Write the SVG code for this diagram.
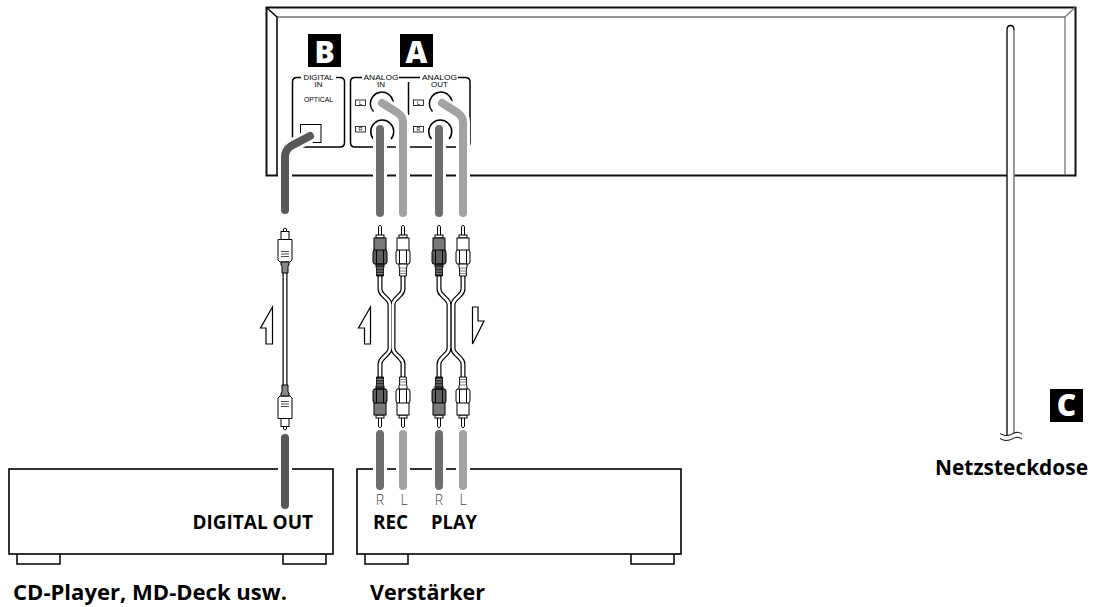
<svg xmlns="http://www.w3.org/2000/svg" width="1093" height="607" viewBox="0 0 1093 607">
<style>
.ln{fill:none;stroke:#000;stroke-width:1.5}
.box{fill:#fff;stroke:#000;stroke-width:1.6}
.gl{fill:none;stroke:#777;stroke-width:1.3}
.thin{fill:none;stroke:#000;stroke-width:1}
.t{font-family:"Open Sans","Noto Sans",sans-serif;font-weight:700;font-size:19px;fill:#000}
.big{font-size:21px}
.s{font-family:"Liberation Sans",Arial,sans-serif;font-size:8px;fill:#000;text-anchor:middle}
.lr{font-family:"Open Sans",sans-serif;font-weight:300;font-size:14px;fill:#444;text-anchor:middle}
.b{font-family:"Open Sans",sans-serif;font-weight:800;font-size:30px;fill:#fff;text-anchor:middle}
.halo{fill:none;stroke:#fff;stroke-width:14}
.cd{fill:none;stroke-width:8;stroke-linecap:round;stroke-linejoin:round}
.opt{stroke:#58585a}.r{stroke:#6e6e6e}.l{stroke:#a3a3a3}
.cao{fill:none;stroke:#000;stroke-width:5}
.cai{fill:none;stroke:#fff;stroke-width:2.600}
.ar{fill:#fff;stroke:#000;stroke-width:1.200}
.pd{fill:#7a7a7a;stroke:#000;stroke-width:1}
.pf{fill:#5f5f5f;stroke:#000;stroke-width:1}
.pk{fill:#333;stroke:#000;stroke-width:1}
.pw{fill:#fff;stroke:#000;stroke-width:1}
</style>
<defs>
<g id="rca-dark">
<path class="pw" d="M-1.500 236V226.500Q0 224 1.500 226.500V236Z"/>
<rect class="pw" x="-4" y="235" width="8" height="3"/>
<rect class="pd" x="-6" y="238" width="12" height="13"/>
<path class="pf" d="M-6 250H6L7 252V262L6 264H-6L-7 262V252Z"/>
<path class="thin" d="M-3.500 250V264M3.500 250V264"/>
<path class="pk" d="M-4 264H4V267L3.400 268V276H-3.400V268L-4 267Z"/>
<path d="M-3.400 268H3.400M-3.400 271H3.400M-3.400 273.500H3.400" stroke="#999" stroke-width="0.800"/>
</g>
<g id="rca-white">
<path class="pw" d="M-1.500 236V226.500Q0 224 1.500 226.500V236Z"/>
<rect class="pw" x="-4" y="235" width="8" height="3"/>
<rect class="pw" x="-6" y="238" width="12" height="13"/>
<path class="pw" d="M-6 250H6L7 252V262L6 264H-6L-7 262V252Z"/>
<path class="thin" d="M-3.500 250V264M3.500 250V264"/>
<path class="pw" d="M-4 264H4V267L3.400 268V276H-3.400V268L-4 267Z"/>
<path d="M-3.400 268H3.400M-3.400 271H3.400M-3.400 273.500H3.400" stroke="#666" stroke-width="0.800"/>
</g>
<g id="opt-plug">
<path class="pw" d="M-1.500 232V229Q0 227 1.500 229V232Z"/>
<rect class="pw" x="-4" y="231.500" width="8" height="8"/>
<path class="pw" d="M-7 239.500H7V260L5 262H-5L-7 260Z"/>
<path d="M-4 251.500H4M-4 254H4M-4 256.500H4" stroke="#000" stroke-width="0.700"/>
<path class="pk" style="fill:#888" d="M-4 262H4V265L3 266V273H-3V266L-4 265Z"/>
</g>
</defs>

<g id="device">
<rect x="266.500" y="7.500" width="809" height="168" fill="#fff" stroke="#111" stroke-width="2"/>
<path class="gl" d="M277 17H1065V175"/>
<path class="ln" d="M277 175V17L266.500 7.500"/>
<path class="gl" d="M1065 17L1075 7.500"/>
<path class="ln" d="M301 77.500H297Q292.500 77.500 292.500 82V142.500Q292.500 147 297 147H340Q344.500 147 344.500 142.500V82Q344.500 77.500 340 77.500H336"/>
<path class="ln" d="M362 77.500H355Q350.500 77.500 350.500 82V142.500Q350.500 147 355 147H465.500Q470 147 470 142.500V82Q470 77.500 465.500 77.500H458M399 77.500H420"/>
<path class="ln" d="M408.500 82V115"/>
<text class="s" x="318.500" y="79.500" textLength="30" lengthAdjust="spacingAndGlyphs">DIGITAL</text><text class="s" x="318.500" y="87">IN</text>
<text class="s" x="318.500" y="102" textLength="29" lengthAdjust="spacingAndGlyphs">OPTICAL</text>
<text class="s" x="381" y="79.500" textLength="35" lengthAdjust="spacingAndGlyphs">ANALOG</text><text class="s" x="381" y="87">IN</text>
<text class="s" x="439.500" y="79.500" textLength="35" lengthAdjust="spacingAndGlyphs">ANALOG</text><text class="s" x="439.500" y="87">OUT</text>
<rect class="thin" x="300.500" y="124.500" width="20.500" height="18" fill="#fff"/>
<g id="jacks">
<path class="ln" d="M373.500 111.500A11.500 11.500 0 1 1 392 109"/>
<path class="ln" d="M373.500 139A11.500 11.500 0 1 1 391 139"/>
<path class="ln" d="M432.500 111.500A11.500 11.500 0 1 1 451 109"/>
<path class="ln" d="M431.500 139A11.500 11.500 0 1 1 449 139"/>
<g fill="#fff" stroke="#000" stroke-width="0.800">
<rect x="355.500" y="100" width="10" height="5.500"/><rect x="355.500" y="126.500" width="10" height="5.500"/>
<rect x="413.500" y="100" width="10" height="5.500"/><rect x="413.500" y="126.500" width="10" height="5.500"/>
</g>
<g font-family="Liberation Sans,sans-serif" font-size="5.500" text-anchor="middle">
<text x="360.500" y="104.800">L</text><text x="360.500" y="131.300">R</text>
<text x="418.500" y="104.800">L</text><text x="418.500" y="131.300">R</text>
</g>
</g>
</g>

<g id="badge-b"><rect x="308" y="34" width="33" height="33" fill="#000"/><text class="b" x="324.500" y="62.500">B</text></g>
<g id="badge-a"><rect x="400" y="34" width="33" height="33" fill="#000"/><text class="b" x="416.500" y="62.500">A</text></g>
<g id="badge-c"><rect x="1050" y="389" width="33" height="33" fill="#000"/><text class="b" x="1066.500" y="416">C</text></g>

<g id="cd-player">
<rect class="box" x="9" y="469" width="324" height="85"/>
<path class="ln" d="M17 554V564H60V554M283 554V564H326V554"/>
<text class="t" x="192.500" y="529" textLength="120.500" lengthAdjust="spacingAndGlyphs">DIGITAL OUT</text>
<text class="t big" x="13" y="600" textLength="274" lengthAdjust="spacingAndGlyphs">CD-Player, MD-Deck usw.</text>
</g>

<g id="amplifier">
<rect class="box" x="357" y="469" width="324" height="85"/>
<path class="ln" d="M365 554V564H408V554M631 554V564H674V554"/>
<text class="lr" x="380" y="505">R</text><text class="lr" x="404" y="505">L</text>
<text class="lr" x="439" y="505">R</text><text class="lr" x="463" y="505">L</text>
<text class="t" x="373" y="529" textLength="35" lengthAdjust="spacingAndGlyphs">REC</text>
<text class="t" x="431" y="529" textLength="46" lengthAdjust="spacingAndGlyphs">PLAY</text>
<text class="t big" x="370" y="600" textLength="115" lengthAdjust="spacingAndGlyphs">Verstärker</text>
</g>

<g id="power-outlet">
<text class="t big" x="935" y="475" textLength="153" lengthAdjust="spacingAndGlyphs">Netzsteckdose</text>
</g>

<g id="connectors">
<g id="cable-halos">
<path class="halo" d="M285 190V157Q285 150 291 146L310 136"/>
<path class="halo" d="M380 190V130"/>
<path class="halo" d="M403 190V122Q403 117 398 113L382 103"/>
<path class="halo" d="M439 190V130"/>
<path class="halo" d="M463 190V122Q463 117 458 113L442 103"/>
<path class="halo" d="M285 455V490M380 455V490M403 455V490M439 455V490M463 455V490"/>
</g>
<path class="cd opt" d="M285 210V157Q285 150 291 146L310 136"/>
<path class="cd r" d="M380 213V129"/>
<path class="cd l" d="M403 213V122Q403 117 398 113L382 103"/>
<path class="cd r" d="M439 213V129"/>
<path class="cd l" d="M463 213V122Q463 117 458 113L442 103"/>
<path class="cd opt" d="M285 438V505"/>
<path class="cd r" d="M380 434V486M439 434V486"/>
<path class="cd l" d="M403 434V486M463 434V486"/>

<g id="optical-cable">
<path class="cao" d="M285 272V386"/><path class="cai" d="M285 272V386"/>
<use href="#opt-plug" x="285"/>
<use href="#opt-plug" transform="translate(285 658) scale(1 -1)"/>
</g>
<g id="rec-cable">
<path class="cao" d="M380 276V289Q380 292 383 295L388 300Q390 302 390 305V348Q390 351 388 353L383 358Q380 361 380 364V378"/><path class="cao" d="M403 276V289Q403 292 400 295L395 300Q393 302 393 305V348Q393 351 395 353L400 358Q403 361 403 364V378"/>
<path class="cai" d="M380 276V289Q380 292 383 295L388 300Q390 302 390 305V348Q390 351 388 353L383 358Q380 361 380 364V378"/><path class="cai" d="M403 276V289Q403 292 400 295L395 300Q393 302 393 305V348Q393 351 395 353L400 358Q403 361 403 364V378"/>
<use href="#rca-dark" x="380"/><use href="#rca-white" x="403"/>
<use href="#rca-dark" transform="translate(380 653) scale(1 -1)"/><use href="#rca-white" transform="translate(403 653) scale(1 -1)"/>
</g>
<g id="play-cable">
<path class="cao" d="M439 276V289Q439 292 442 295L447 300Q449 302 449 305V348Q449 351 447 353L442 358Q439 361 439 364V378"/><path class="cao" d="M463 276V289Q463 292 460 295L455 300Q453 302 453 305V348Q453 351 455 353L460 358Q463 361 463 364V378"/>
<path class="cai" d="M439 276V289Q439 292 442 295L447 300Q449 302 449 305V348Q449 351 447 353L442 358Q439 361 439 364V378"/><path class="cai" d="M463 276V289Q463 292 460 295L455 300Q453 302 453 305V348Q453 351 455 353L460 358Q463 361 463 364V378"/>
<use href="#rca-dark" x="439"/><use href="#rca-white" x="463"/>
<use href="#rca-dark" transform="translate(439 653) scale(1 -1)"/><use href="#rca-white" transform="translate(463 653) scale(1 -1)"/>
</g>
<g id="direction-arrows">
<path class="ar" d="M272.500 307V344H266V328H260.500Z"/>
<path class="ar" d="M370.500 307V344H364.500V328H358.500Z"/>
<path class="ar" d="M472.500 307H478V321H484L472.500 344Z"/>
</g>
<g id="power-cord">
<path d="M1007 436V30Q1007 25.500 1010.500 25.500Q1014 25.500 1014 30V434Z" fill="#fff" stroke="none"/>
<path d="M1007 436V30Q1007 25.500 1010.500 25.500Q1014 25.500 1014 30" fill="none" stroke="#000" stroke-width="1.300"/>
<path d="M1014 30V434" fill="none" stroke="#777" stroke-width="1.500"/>
<path class="thin" d="M1000 433.500C1004 436 1008 436 1012 434S1018 431.500 1022 434M1000 438.500C1004 441 1008 441 1012 439S1018 436.500 1022 439"/>
</g>
</g>
</svg>
